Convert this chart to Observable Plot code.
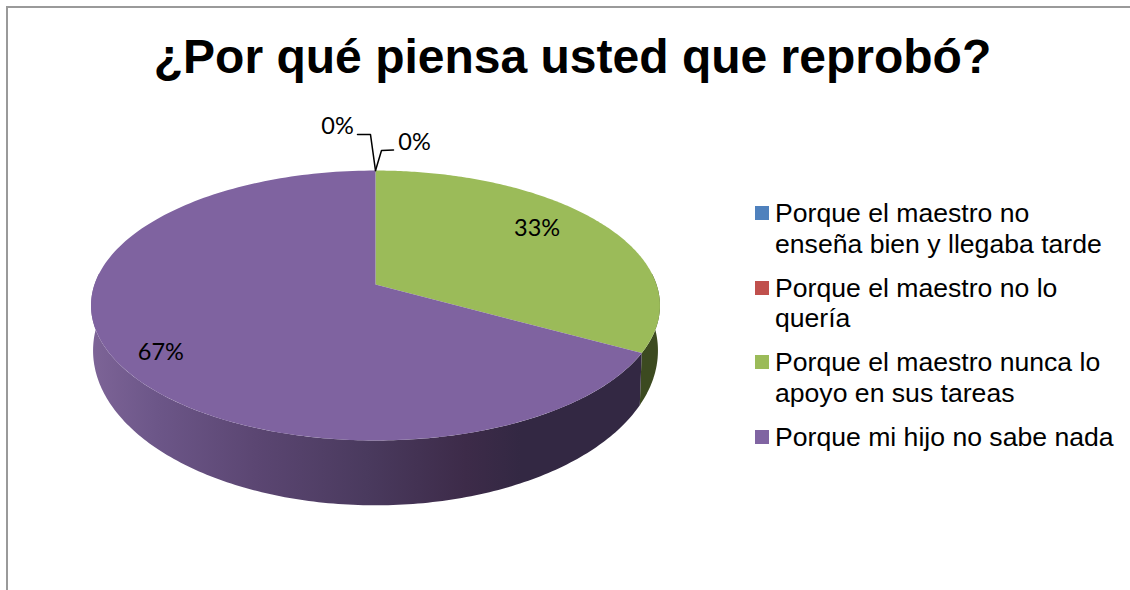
<!DOCTYPE html>
<html lang="es">
<head>
<meta charset="utf-8">
<title>¿Por qué piensa usted que reprobó?</title>
<script src="https://cdn.jsdelivr.net/npm/d3@7"></script>
<script src="https://cdn.jsdelivr.net/npm/@observablehq/plot@0.6"></script>
<style>
  html, body { margin: 0; padding: 0; background: #fff; overflow: hidden; }
  #page { position: relative; width: 1130px; height: 590px; overflow: hidden; }
  #frame { position: absolute; left: 6px; top: 6px; right: -4px; bottom: -4px; border-left: 2px solid #9a9a9a; border-top: 2px solid #9a9a9a; }
  #chart { position: absolute; left: 0; top: 0; }
  #title { position: absolute; left: 0; top: 27px; width: 1145px; margin: 0; text-align: center; font: bold 48px/60px "Liberation Sans", Arial, sans-serif; color: #000; white-space: nowrap; }
  #legend { position: absolute; left: 755px; top: 198px; font: 26.6px/30.5px "Liberation Sans", Arial, sans-serif; color: #000; white-space: nowrap; }
  .row { position: relative; padding-left: 20px; margin-bottom: 13.5px; }
  .swatch { position: absolute; left: 0; top: 8px; width: 14px; height: 14px; }
</style>
</head>
<body>
<div id="page">
  <div id="frame"></div>
  <div id="chart"></div>
  <h1 id="title"></h1>
  <div id="legend"></div>
</div>
<script>
const titleText = "¿Por qué piensa usted que reprobó?";
const categories = [
  "Porque el maestro no\nenseña bien y llegaba tarde",
  "Porque el maestro no lo\nquería",
  "Porque el maestro nunca lo\napoyo en sus tareas",
  "Porque mi hijo no sabe nada"
];
const percentages = [0, 0, 33, 67];
const palette = ["#4f81bd", "#c0504d", "#9bbb59", "#7f63a0"];

// 3-D view of the pie: a disc under perspective
const cx = 375, tilt = 0.1556;
const topFace = {y0: 284, a: 281, b: 131.7};
const baseFace = {y0: 326, a: 279, b: 151};
const project = (face, deg, r = 1) => {
  const t = deg * Math.PI / 180, u = r * Math.sin(t), v = r * Math.cos(t), d = 1 + tilt * v;
  return {x: cx + face.a * u / d, y: face.y0 - face.b * v / d};
};
const sweep = (a0, a1) => d3.range(0, 181).map((i) => a0 + (a1 - a0) * i / 180);

const arcs = d3.pie().sort(null).value((d) => d)(percentages).map((a, i) => ({
  category: categories[i],
  value: percentages[i],
  start: a.startAngle * 180 / Math.PI,
  end: a.endAngle * 180 / Math.PI
}));

// Top face of each slice
const topRows = arcs.flatMap((a) => a.value === 0 ? [] : [
  {category: a.category, ...project(topFace, 0, 0)},
  ...sweep(a.start, a.end).map((d) => ({category: a.category, ...project(topFace, d)}))
]);

// Visible wall of each slice (only the front half of the pie)
const wall = (a) => {
  const s = Math.max(a.start, 85), e = Math.min(a.end, 275);
  return [
    ...sweep(s, e).map((d) => project(topFace, d)),
    ...sweep(e, s).map((d) => project(baseFace, d))
  ];
};
const green = arcs[2], purple = arcs[3];

// Labels are placed where the reference has them, per slice
const labelPlace = [
  {x: () => project(topFace, 0).x - 38, y: () => project(topFace, 0).y - 44},
  {x: () => project(topFace, 0).x + 39, y: () => project(topFace, 0).y - 28},
  {x: () => project(topFace, 53.5, 0.766).x, y: () => project(topFace, 53.5, 0.766).y},
  {x: () => project(topFace, 236, 0.853).x, y: () => project(topFace, 236, 0.853).y}
];
const labelRows = arcs.map((a, i) => ({text: `${a.value}%`, x: labelPlace[i].x(), y: labelPlace[i].y()}));

// Leader lines from the top of the pie to the two 0% labels
const apex = project(topFace, 0);
const leaders = [
  [{x: apex.x - 18, y: apex.y - 36}, {x: apex.x - 5, y: apex.y - 36}, apex],
  [{x: apex.x + 18, y: apex.y - 20.5}, {x: apex.x + 6, y: apex.y - 20}, apex]
].flatMap((pts, i) => pts.map((p) => ({...p, id: i})));

const gradientDefs = () => {
  const defs = d3.create("svg:defs");
  const g = defs.append("linearGradient").attr("id", "wallShade");
  [[0, "#7d6497"], [0.12, "#6c5688"], [0.3, "#5b4672"], [0.5, "#4a3a5e"], [0.68, "#3d2b49"], [0.78, "#332843"], [1, "#332843"]]
    .forEach(([o, c]) => g.append("stop").attr("offset", o).attr("stop-color", c));
  return defs.node();
};

const xy = {x: "x", y: "y"};
const plot = Plot.plot({
  width: 1130,
  height: 590,
  margin: 0,
  style: {background: "transparent"},
  x: {domain: [0, 1130], range: [0, 1130], axis: null},
  y: {domain: [0, 590], range: [0, 590], axis: null},
  color: {domain: categories, range: palette},
  marks: [
    gradientDefs,
    Plot.line(wall(green), {...xy, fill: "#3c4a20", stroke: "none"}),
    Plot.line(wall(purple), {...xy, fill: "url(#wallShade)", stroke: "none"}),
    Plot.line(topRows, {...xy, z: "category", fill: "category", stroke: "none"}),
    Plot.line(leaders, {...xy, z: "id", stroke: "#000", strokeWidth: 1.5, curve: "linear"}),
    Plot.text(labelRows, {
      ...xy, text: "text", fill: "#000",
      fontFamily: "Lato, 'Liberation Sans', sans-serif", fontSize: 23.5
    })
  ]
});
document.getElementById("chart").append(plot);
document.getElementById("title").textContent = titleText;

const legend = d3.select("#legend");
categories.forEach((c, i) => {
  const row = legend.append("div").attr("class", "row");
  row.append("span").attr("class", "swatch").style("background", i === 3 ? "#8064a2" : palette[i]);
  c.split("\n").forEach((line) => row.append("div").text(line));
});
</script>
</body>
</html>
